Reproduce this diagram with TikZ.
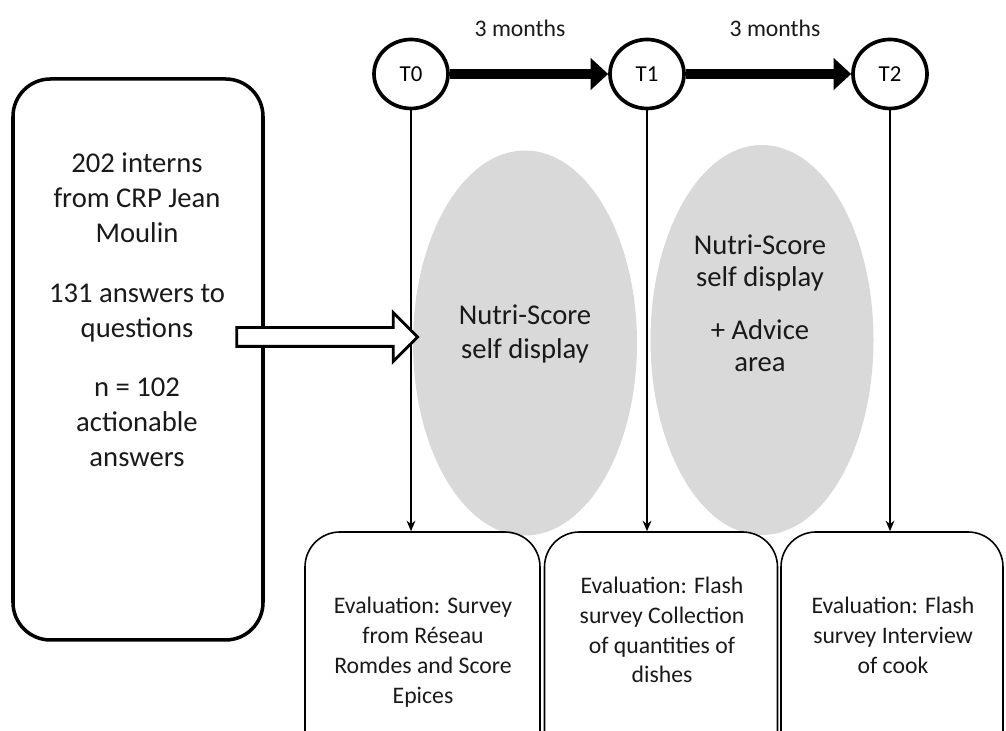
\documentclass[tikz,border=0pt]{standalone}
\usepackage{fontspec}
\setmainfont{Carlito}
\usepackage{tikz}
\usetikzlibrary{arrows.meta,shapes.geometric,shapes.arrows}

\begin{document}
\begin{tikzpicture}[
  timept/.style={draw, ellipse, line width=2.1pt, minimum width=1.48cm, minimum height=1.38cm,
                 inner sep=0pt, font=\fontsize{13}{15}\selectfont},
  period/.style={line width=0.2cm, -{Triangle[length=0.35cm,width=0.62cm]}},
  cohort/.style={draw, rounded corners=0.75cm, line width=2pt, minimum width=5cm, minimum height=11.22cm},
  phase/.style={ellipse, fill=gray!30, minimum width=4.48cm, minimum height=7.7cm},
  evalbox/.style={draw, rounded corners=0.7cm, line width=0.9pt, minimum height=4.8cm},
  bigtxt/.style={align=center, text=black!90, font=\fontsize{16.3}{19.8}\selectfont},
  smalltxt/.style={align=center, text=black!90, font=\fontsize{13.5}{17}\selectfont},
  >={Stealth[length=6pt,width=5pt]}, semithick
]
  \useasboundingbox (0,0) rectangle (20.12,14.62);
  \clip (0,0) rectangle (20.12,14.62);
  % phases
  \node[phase] (ph1) at (10.50,7.76) {};
  \node[phase, minimum width=4.46cm, minimum height=7.8cm] (ph2) at (15.24,7.82) {};
  \node[bigtxt] (ph1txt) at (10.50,7.94) {Nutri-Score\\self display};
  \node[bigtxt, font=\fontsize{16.3}{18.2}\selectfont] (ph2txt) at (15.20,8.56)
    {Nutri-Score\\self display\\[0.42cm]+ Advice\\area};
  % time points
  \node[timept] (T0) at (8.22,13.14) {T0};
  \node[timept] (T1) at (12.94,13.14) {T1};
  \node[timept] (T2) at (17.80,13.14) {T2};
  \node[smalltxt] (m1) at (10.40,14.06) {3 months};
  \node[smalltxt] (m2) at (15.50,14.06) {3 months};
  % evaluations
  \node[evalbox, minimum width=4.7cm]  (ev1) at (8.45,1.58) {};
  \node[evalbox, minimum width=4.66cm] (ev2) at (13.22,1.58) {};
  \node[evalbox, minimum width=4.44cm] (ev3) at (17.84,1.58) {};
  \node[smalltxt] (ev1txt) at (8.46,1.58) {Evaluation: Survey\\from Réseau\\Romdes and Score\\Epices};
  \node[smalltxt] (ev2txt) at (13.24,2.02) {Evaluation: Flash\\survey Collection\\of quantities of\\dishes};
  \node[smalltxt] (ev3txt) at (17.86,1.92) {Evaluation: Flash\\survey Interview\\of cook};
  \draw[->, line width=0.8pt] (T0.south) -- (T0.south |- ev1.north);
  \draw[->, line width=0.8pt] (T1.south) -- (T1.south |- ev2.north);
  \draw[->, line width=0.8pt] (T2.south) -- (T2.south |- ev3.north);
  % participants
  \node[cohort] (pop) at (2.76,7.43) {};
  \node[bigtxt] (poptxt) at (2.74,8.42)
    {202 interns\\from CRP Jean\\Moulin\\[0.5cm]131 answers to\\questions\\[0.5cm]n = 102\\actionable\\answers};
  \node[single arrow, draw, fill=white, line width=1.6pt, minimum height=3.62cm,
        inner sep=0.16cm, single arrow head extend=0.3cm] (feed) at (6.45,7.88) {};
  \draw[period] (T0) -- (T1);
  \draw[period] (T1) -- (T2);
\end{tikzpicture}
\end{document}
